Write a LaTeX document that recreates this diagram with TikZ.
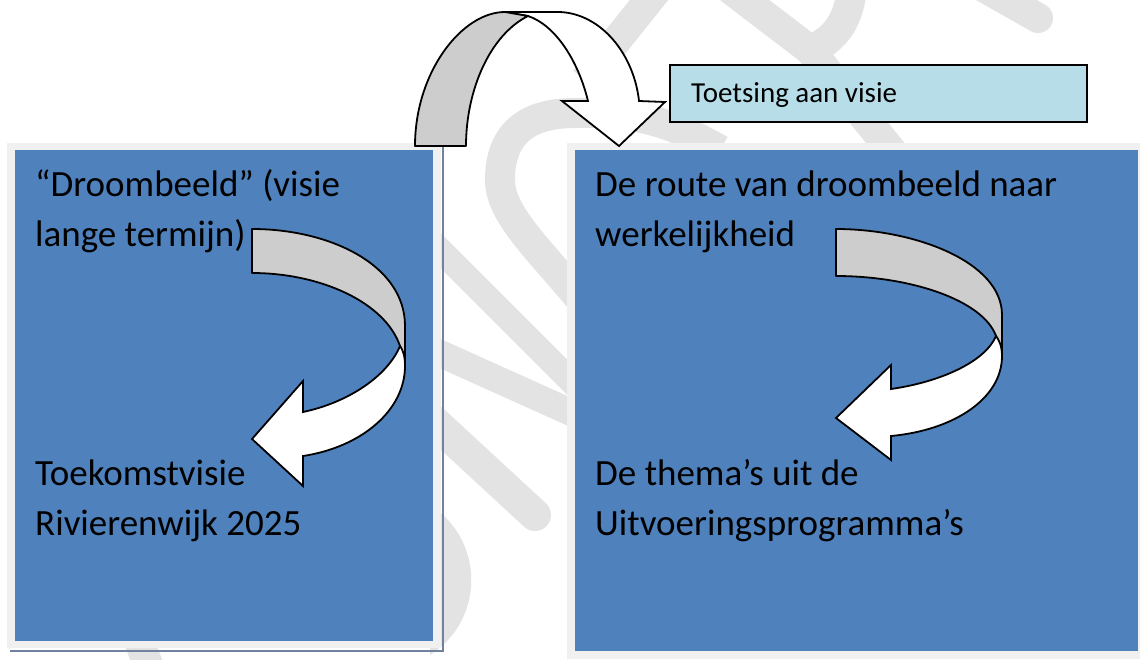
\documentclass[tikz,border=0pt]{standalone}
\usepackage{fontspec}
\setmainfont{Carlito}
\definecolor{boxblue}{HTML}{4F81BD}
\definecolor{framegrey}{HTML}{F0F0F0}
\definecolor{backgrey}{HTML}{CDCDCD}
\definecolor{toetsblue}{HTML}{B7DDE8}
\definecolor{wmgrey}{HTML}{E3E3E3}
\definecolor{shadowblue}{HTML}{72829E}
\begin{document}
\begin{tikzpicture}[x=1pt,y=-1pt,
  wm/.style={draw=wmgrey, line width=30pt, line join=round},
  framebox/.style={fill=framegrey, draw=none},
  panel/.style={fill=boxblue, draw=none, inner sep=0pt, anchor=north west},
  backface/.style={fill=backgrey, draw=black, line width=1.8pt, line join=round},
  frontface/.style={fill=white, draw=black, line width=1.8pt, line join=miter},
  bigtext/.style={font=\fontsize{37}{50}\selectfont, align=left, anchor=base west, inner sep=0pt, text=black},
  toetsbox/.style={fill=toetsblue, draw=black, line width=1.6pt, inner sep=0pt, anchor=north west},
  toetstext/.style={font=\fontsize{29}{35}\selectfont, anchor=base west, inner sep=0pt, text=black}]
\useasboundingbox (0,0) rectangle (1140,659);
\fill[white] (0,0) rectangle (1140,659);

% watermark
\draw[wm] (665,-20) -- (585,80);
\draw[wm] (720,150) .. controls (660,115) and (620,112) .. (575,113)
  .. controls (520,113) and (500,140) .. (500,180)
  .. controls (500,215) and (540,250) .. (585,305);
\draw[wm] (725,-15) -- (810,50);
\draw[wm] (852,-15) .. controls (850,20) and (835,40) .. (810,50);
\draw[wm] (810,50) -- (895,155);
\draw[wm, line cap=round] (980,-15) -- (1038,18);
\draw[wm, line width=25pt] (430,240) -- (590,400);
\draw[wm, line width=27pt] (430,349) -- (590,421);
\draw[wm, line width=32pt, line cap=round] (430,418) -- (535,515);
\fill[wmgrey] (430,505) .. controls (485,540) and (485,620) .. (430,655) -- cycle;
\draw[wm] (135,630) -- (150,670);

% left box
\fill[framegrey] (7,143) rectangle (441,648);
\node[panel, minimum width=418pt, minimum height=491pt] (leftbox) at (15,150) {};
\draw[shadowblue, line width=2.5pt] (443,147) -- (443,651) -- (10,651);

% right box
\fill[framegrey] (567,143) rectangle (1140,659);
\node[panel, minimum width=563pt, minimum height=501pt] (rightbox) at (575,150) {};

% top curved arrow
\draw[frontface] (505,12) -- (560,12) .. controls (602,14) and (634,55) .. (639,101)
  -- (665,102) -- (619,146) -- (562,101) -- (588,101)
  .. controls (578,60) and (555,25) .. (528,16) -- cycle;
\draw[backface] (415,146) .. controls (415,72) and (462,12) .. (505,12) -- (528,16)
  .. controls (490,35) and (466,90) .. (466,146) -- cycle;

% left curved arrow
\draw[backface] (252,229) .. controls (330,229) and (405,265) .. (405,326) -- (405,363)
  -- (400,346) .. controls (385,302) and (320,273) .. (252,273) -- cycle;
\draw[frontface] (400,346) .. controls (403,350) and (405,356) .. (405,366)
  .. controls (405,410) and (362,447) .. (303,456) -- (303,486) -- (252,439)
  -- (303,381) -- (303,412) .. controls (350,402) and (388,375) .. (400,346) -- cycle;

% right curved arrow
\draw[backface] (836,229) .. controls (915,229) and (1002,262) .. (1002,315) -- (1002,356)
  -- (996,336) .. controls (983,300) and (910,276) .. (836,276) -- cycle;
\draw[frontface] (996,336) .. controls (999,340) and (1002,346) .. (1002,356)
  .. controls (1002,398) and (955,430) .. (891,436) -- (891,460) -- (836,418)
  -- (891,365) -- (891,389) .. controls (940,382) and (985,362) .. (996,336) -- cycle;

% texts (anchor at baseline of the last line)
\node[bigtext] (droom) at (35,246) {“Droombeeld” (visie\\lange termijn)};
\node[bigtext] (toekomst) at (35,535) {Toekomstvisie\\Rivierenwijk 2025};
\node[bigtext] (route) at (595,246) {De route van droombeeld naar\\werkelijkheid};
\node[bigtext] (thema) at (595,535) {De thema’s uit de\\Uitvoeringsprogramma’s};

% toetsing box
\node[toetsbox, minimum width=417pt, minimum height=57pt] (toets) at (669,64) {};
\node[toetstext] (toetslabel) at (691,102) {Toetsing aan visie};
\end{tikzpicture}
\end{document}
